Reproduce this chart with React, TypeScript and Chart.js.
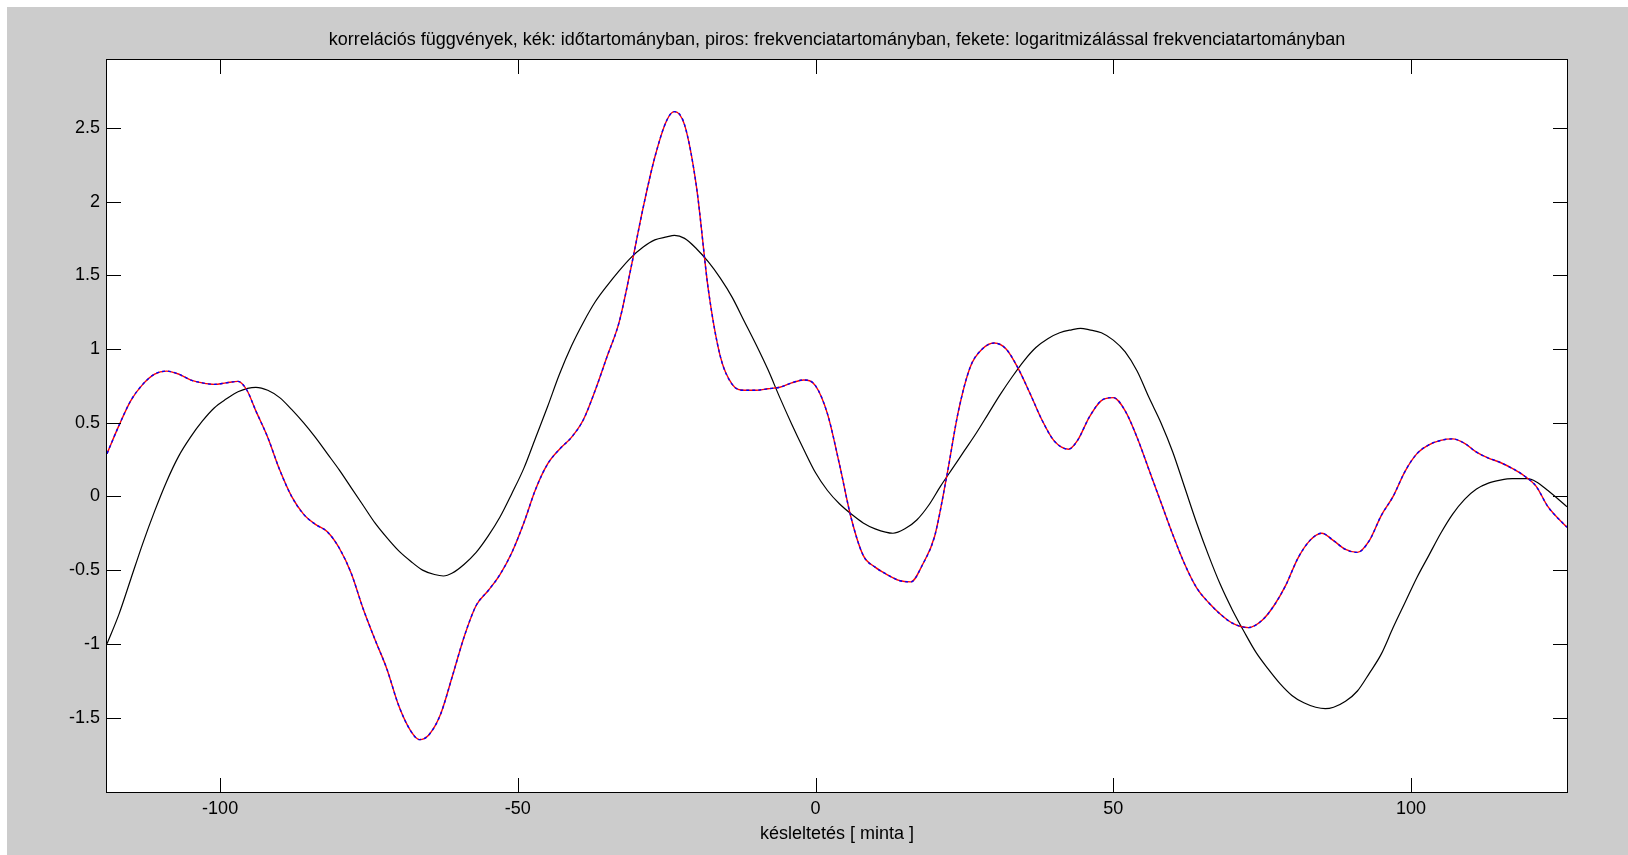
import { useEffect, useRef } from "react";
import { Chart, registerables } from "chart.js";

Chart.register(...registerables);

const TITLE =
  "korrelációs függvények, kék: időtartományban, piros: frekvenciatartományban, fekete: logaritmizálással frekvenciatartományban";
const X_LABEL = "késleltetés [ minta ]";

const xTicks = [-100, -50, 0, 50, 100];
const yTicks = [-1.5, -1, -0.5, 0, 0.5, 1, 1.5, 2, 2.5];
const X_MIN = -119;
const X_MAX = 126.2;
const Y_MIN = -2.005;
const Y_MAX = 2.96;

// frequency-domain (red) / time-domain (blue) correlation: identical curves
const lagsFreq = [
  -119, -117, -115, -113, -111, -109, -107, -105, -103, -101, -99, -97, -95.5, -94, -92, -90, -88, -86, -84, -82,
  -80, -78, -76, -74, -72, -70, -68, -66.5, -65, -63, -61, -59, -57, -55, -53, -51, -49, -47, -45, -43, -41, -39,
  -37, -35, -33, -31, -29, -27, -25, -23.7, -22, -20, -18, -16, -14, -12, -10, -8, -6, -4, -2, 0, 2, 4, 6, 8, 10,
  12, 14, 16, 18, 20, 22, 24, 26, 28, 30, 32, 34, 36, 38, 40, 42.5, 44, 46, 48, 50, 52, 54, 56, 58, 60, 62, 64, 66,
  68, 70, 72.7, 75, 77, 79, 81, 83, 85, 87, 89, 91, 93, 95, 97, 99, 101, 103, 105, 107, 109, 111, 113, 115, 117,
  119, 121, 123, 126.2,
];
const valuesFreq = [
  0.29, 0.48, 0.65, 0.76, 0.83, 0.85, 0.83, 0.79, 0.77, 0.76, 0.77, 0.78, 0.72, 0.58, 0.4, 0.18, 0.0, -0.12, -0.19,
  -0.24, -0.35, -0.52, -0.76, -0.97, -1.17, -1.42, -1.59, -1.65, -1.62, -1.48, -1.22, -0.95, -0.74, -0.64, -0.53,
  -0.38, -0.18, 0.05, 0.22, 0.32, 0.4, 0.52, 0.72, 0.95, 1.18, 1.55, 1.95, 2.3, 2.55, 2.61, 2.52, 2.1, 1.4, 0.95,
  0.76, 0.72, 0.72, 0.73, 0.74, 0.77, 0.79, 0.75, 0.56, 0.22, -0.15, -0.4, -0.48, -0.53, -0.57, -0.58, -0.46, -0.27,
  0.13, 0.58, 0.88, 1.0, 1.04, 1.0, 0.87, 0.7, 0.52, 0.38, 0.32, 0.38, 0.54, 0.65, 0.67, 0.58, 0.4, 0.18, -0.04,
  -0.26, -0.46, -0.62, -0.72, -0.8, -0.86, -0.89, -0.84, -0.74, -0.6, -0.42, -0.3, -0.25, -0.3, -0.36, -0.38, -0.3,
  -0.13, 0.0, 0.17, 0.29, 0.35, 0.38, 0.39, 0.36, 0.3, 0.26, 0.23, 0.19, 0.14, 0.07, -0.07, -0.21,
];
const lagsTime = lagsFreq;
const valuesTime = valuesFreq;

// log-spectrum (black) correlation
const lagsLog = [
  -119, -117, -115, -113, -111, -109, -107, -105, -103, -101, -99, -97, -94, -92, -90, -88, -86, -84, -82, -80, -78,
  -76, -74, -72, -70, -68, -66, -64, -62.5, -61, -59, -57, -55, -53, -51, -49, -47, -45, -43, -41, -39, -37, -35,
  -33, -31, -29, -27, -25, -23.7, -22, -20, -18, -16, -14, -12, -10, -8, -6, -4, -2, 0, 2, 4, 6, 8, 10, 13, 15, 17,
  19, 21, 23, 25, 27, 29, 31, 33, 35, 37, 39, 41, 43, 44.5, 46, 48, 50, 52, 54, 56, 58, 60, 62, 64, 66, 68, 70, 72,
  74, 76, 78, 80, 82, 84, 85.6, 87, 89, 91, 93, 95, 97, 99, 101, 103, 105, 107, 109, 111, 113, 115, 117, 119.5, 121,
  123, 126.2,
];
const valuesLog = [
  -1.0, -0.8, -0.56, -0.32, -0.1, 0.1, 0.27, 0.4, 0.51, 0.6, 0.66, 0.71, 0.74, 0.72, 0.67, 0.59, 0.5, 0.4, 0.29,
  0.18, 0.06, -0.06, -0.18, -0.28, -0.37, -0.44, -0.5, -0.53, -0.54, -0.52, -0.46, -0.38, -0.27, -0.14, 0.02, 0.19,
  0.4, 0.61, 0.83, 1.02, 1.18, 1.32, 1.43, 1.53, 1.62, 1.69, 1.74, 1.76, 1.77, 1.75, 1.68, 1.59, 1.48, 1.35, 1.19,
  1.03, 0.86, 0.67, 0.49, 0.32, 0.16, 0.04, -0.05, -0.12, -0.18, -0.22, -0.25, -0.22, -0.16, -0.06, 0.07, 0.19, 0.31,
  0.43, 0.56, 0.69, 0.81, 0.92, 1.01, 1.07, 1.11, 1.13, 1.14, 1.13, 1.11, 1.06, 0.98, 0.85, 0.67, 0.5, 0.3, 0.06,
  -0.18, -0.4, -0.6, -0.77, -0.92, -1.06, -1.17, -1.27, -1.35, -1.4, -1.43, -1.44, -1.43, -1.39, -1.32, -1.2, -1.07,
  -0.89, -0.72, -0.55, -0.4, -0.25, -0.12, -0.02, 0.05, 0.09, 0.11, 0.12, 0.12, 0.1, 0.04, -0.07,
];

const FONT = '"Liberation Sans", Arial, Helvetica, sans-serif';
const FONT_SIZE = 18;
const toPts = (xs: number[], ys: number[]) => xs.map((x, i) => ({ x, y: ys[i] }));

const framePlugin = {
  id: "matlabFrame",
  beforeDraw(chart: any) {
    const { ctx, width, height, chartArea: a } = chart;
    ctx.save();
    ctx.fillStyle = "#ffffff";
    ctx.fillRect(0, 0, width, height);
    ctx.fillStyle = "#cccccc";
    ctx.fillRect(7, 7, width - 7, height - 7);
    ctx.fillStyle = "#ffffff";
    ctx.fillRect(a.left, a.top, a.right - a.left, a.bottom - a.top);
    ctx.fillStyle = "#000000";
    ctx.font = `${FONT_SIZE}px ${FONT}`;
    ctx.textAlign = "center";
    ctx.textBaseline = "middle";
    ctx.fillText(TITLE, (a.left + a.right) / 2, 40);
    ctx.restore();
  },
  afterDraw(chart: any) {
    const { ctx, chartArea: a, scales } = chart;
    const L = 14;
    ctx.save();
    ctx.strokeStyle = "#000000";
    ctx.lineWidth = 1;
    ctx.beginPath();
    for (const t of xTicks) {
      const px = Math.round(scales.x.getPixelForValue(t)) + 0.5;
      ctx.moveTo(px, a.bottom);
      ctx.lineTo(px, a.bottom - L);
      ctx.moveTo(px, a.top);
      ctx.lineTo(px, a.top + L);
    }
    for (const t of yTicks) {
      const py = Math.round(scales.y.getPixelForValue(t)) + 0.5;
      ctx.moveTo(a.left, py);
      ctx.lineTo(a.left + L, py);
      ctx.moveTo(a.right, py);
      ctx.lineTo(a.right - L, py);
    }
    ctx.stroke();
    ctx.strokeRect(a.left - 0.5, a.top - 0.5, a.right - a.left + 1, a.bottom - a.top + 1);
    ctx.restore();
  },
};

export default function App() {
  const ref = useRef<HTMLCanvasElement | null>(null);

  useEffect(() => {
    if (!ref.current) return;
    const chart = new Chart(ref.current, {
      type: "line",
      data: {
        datasets: [
          {
            label: "időtartomány",
            data: toPts(lagsTime, valuesTime),
            borderColor: "#0000ff",
            borderWidth: 1.4,
            borderDash: [3, 3],
            pointRadius: 0,
            cubicInterpolationMode: "monotone",
            fill: false,
            order: 0,
          },
          {
            label: "frekvenciatartomány",
            data: toPts(lagsFreq, valuesFreq),
            borderColor: "#ff0000",
            borderWidth: 1.4,
            pointRadius: 0,
            cubicInterpolationMode: "monotone",
            fill: false,
            order: 1,
          },
          {
            label: "logaritmizálással",
            data: toPts(lagsLog, valuesLog),
            borderColor: "#000000",
            borderWidth: 1.2,
            pointRadius: 0,
            cubicInterpolationMode: "monotone",
            fill: false,
            order: 2,
          },
        ],
      },
      options: {
        animation: false,
        responsive: false,
        parsing: false as any,
        layout: { padding: { top: 60, left: 0, right: 61, bottom: 0 } },
        plugins: { legend: { display: false }, tooltip: { enabled: false }, title: { display: false } },
        scales: {
          x: {
            type: "linear",
            min: X_MIN,
            max: X_MAX,
            grid: { display: false, drawTicks: false },
            border: { display: false },
            afterBuildTicks: (s: any) => {
              s.ticks = xTicks.map((v) => ({ value: v }));
            },
            afterFit: (s: any) => {
              s.height = 63;
            },
            ticks: {
              padding: 6,
              color: "#000000",
              font: { family: FONT, size: FONT_SIZE },
              maxRotation: 0,
              autoSkip: false,
              callback: (v: any) => String(v),
            },
            title: {
              display: true,
              text: X_LABEL,
              color: "#000000",
              font: { family: FONT, size: FONT_SIZE },
              padding: { top: 0, bottom: 10 },
            },
          },
          y: {
            type: "linear",
            min: Y_MIN,
            max: Y_MAX,
            grid: { display: false, drawTicks: false },
            border: { display: false },
            afterBuildTicks: (s: any) => {
              s.ticks = yTicks.map((v) => ({ value: v }));
            },
            afterFit: (s: any) => {
              s.width = 107;
            },
            ticks: {
              padding: 7,
              color: "#000000",
              font: { family: FONT, size: FONT_SIZE },
              autoSkip: false,
              callback: (v: any) => String(v),
            },
          },
        },
      },
      plugins: [framePlugin],
    });
    return () => chart.destroy();
  }, []);

  return (
    <div style={{ position: "fixed", left: 0, top: 0, width: 1628, height: 855 }}>
      <canvas ref={ref} width={1628} height={855} style={{ display: "block" }} />
    </div>
  );
}
